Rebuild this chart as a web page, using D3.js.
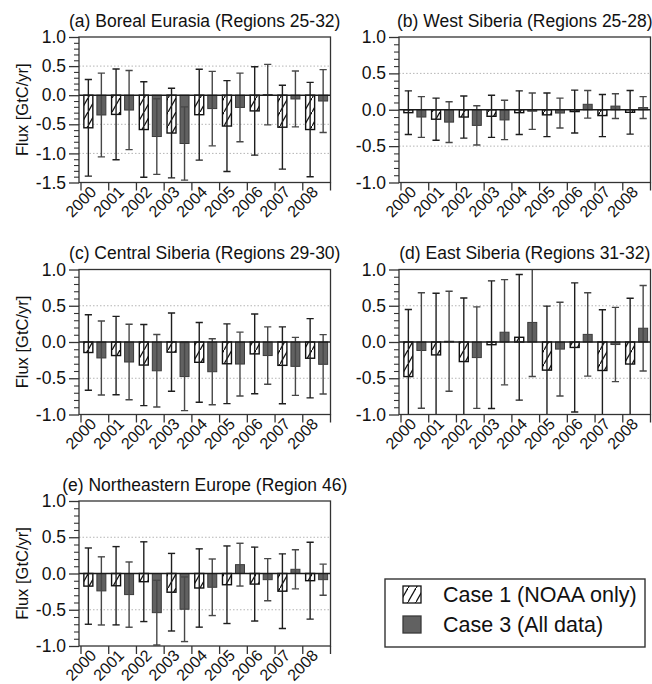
<!DOCTYPE html>
<html><head><meta charset="utf-8">
<script src="https://cdn.jsdelivr.net/npm/d3@7"></script>
<style>
body{margin:0;background:#fff}
text{font-family:"Liberation Sans",Arial,Helvetica,sans-serif;fill:#111}
</style>
</head><body>
<svg id="chart" width="652" height="684"></svg>
<script>
// ---------- DATA ----------
const years = ["2000","2001","2002","2003","2004","2005","2006","2007","2008"];
const seriesNames = ["Case 1 (NOAA only)", "Case 3 (All data)"];
const yLabel = "Flux [GtC/yr]";

// (a) Boreal Eurasia
const aTitle = "(a) Boreal Eurasia (Regions 25-32)";
const aCase1 = [-0.56,-0.33,-0.59,-0.65,-0.335,-0.53,-0.27,-0.55,-0.59];
const aCase1Err = [0.83,0.78,0.82,0.77,0.78,0.78,0.76,0.72,0.81];
const aCase3 = [-0.34,-0.255,-0.71,-0.83,-0.23,-0.21,0.01,-0.065,-0.10];
const aCase3Err = [0.72,0.68,0.65,0.63,0.64,0.59,0.52,0.48,0.54];
const aTicks = [1.0,0.5,0.0,-0.5,-1.0,-1.5];

// (b) West Siberia
const bTitle = "(b) West Siberia (Regions 25-28)";
const bCase1 = [-0.04,-0.13,-0.10,-0.09,-0.04,-0.07,-0.025,-0.08,-0.035];
const bCase1Err = [0.30,0.29,0.29,0.29,0.30,0.30,0.295,0.29,0.30];
const bCase3 = [-0.10,-0.17,-0.215,-0.14,-0.02,-0.045,0.075,0.05,0.03];
const bCase3Err = [0.28,0.28,0.27,0.27,0.25,0.205,0.19,0.17,0.15];

// (c) Central Siberia
const cTitle = "(c) Central Siberia (Regions 29-30)";
const cCase1 = [-0.145,-0.187,-0.318,-0.14,-0.28,-0.30,-0.164,-0.322,-0.224];
const cCase1Err = [0.52,0.54,0.56,0.54,0.55,0.55,0.55,0.53,0.547];
const cCase3 = [-0.22,-0.276,-0.397,-0.477,-0.41,-0.304,-0.187,-0.336,-0.308];
const cCase3Err = [0.51,0.52,0.50,0.47,0.455,0.44,0.395,0.40,0.41];

// (d) East Siberia
const dTitle = "(d) East Siberia (Regions 31-32)";
const dCase1 = [-0.477,-0.178,-0.27,-0.037,0.065,-0.388,-0.075,-0.393,-0.304];
const dCase1Err = [0.926,0.85,0.877,0.88,0.867,0.883,0.89,0.837,0.907];
const dCase3 = [-0.117,0.01,-0.215,0.135,0.27,-0.098,0.105,-0.035,0.19];
const dCase3Err = [0.797,0.69,0.70,0.726,0.745,0.647,0.575,0.512,0.59];

// (e) Northeastern Europe
const eTitle = "(e) Northeastern Europe (Region 46)";
const eCase1 = [-0.174,-0.169,-0.113,-0.258,-0.20,-0.155,-0.146,-0.244,-0.099];
const eCase1Err = [0.526,0.54,0.55,0.535,0.54,0.535,0.51,0.515,0.53];
const eCase3 = [-0.24,-0.291,-0.54,-0.493,-0.19,0.122,-0.085,0.058,-0.085];
const eCase3Err = [0.47,0.45,0.446,0.446,0.39,0.295,0.29,0.27,0.214];

const stdTicks = [1.0,0.5,0.0,-0.5,-1.0];

// ---------- LAYOUT ----------
const panels = [
  {title:aTitle, c1:aCase1, e1:aCase1Err, c3:aCase3, e3:aCase3Err, ticks:aTicks, left:79, bandStart:81, right:330.5, top:37, bottom:182.5, ylab:true},
  {title:bTitle, c1:bCase1, e1:bCase1Err, c3:bCase3, e3:bCase3Err, ticks:stdTicks, left:399, bandStart:401, right:650.5, top:37, bottom:182.5, ylab:false},
  {title:cTitle, c1:cCase1, e1:cCase1Err, c3:cCase3, e3:cCase3Err, ticks:stdTicks, left:79, bandStart:81, right:330.5, top:269.5, bottom:414.5, ylab:true},
  {title:dTitle, c1:dCase1, e1:dCase1Err, c3:dCase3, e3:dCase3Err, ticks:stdTicks, left:399, bandStart:401, right:650.5, top:269.5, bottom:414.5, ylab:false},
  {title:eTitle, c1:eCase1, e1:eCase1Err, c3:eCase3, e3:eCase3Err, ticks:stdTicks, left:79, bandStart:81, right:330.5, top:501, bottom:646, ylab:true}
];

const svg = d3.select("#chart");
const defs = svg.append("defs");
const pat = defs.append("pattern").attr("id","hatch")
  .attr("patternUnits","userSpaceOnUse").attr("width",8).attr("height",14);
pat.append("rect").attr("width",8).attr("height",14).attr("fill","#fff");
pat.append("path").attr("d","M-2,17.5 L10,-3.5").attr("stroke","#111").attr("stroke-width",1.3);

const darkFill = "#616161", darkStroke = "#3a3a3a";

panels.forEach((p, pi) => {
  const g = svg.append("g");
  const ext = d3.extent(p.ticks);
  const y = d3.scaleLinear().domain(ext).range([p.bottom, p.top]);
  const x = d3.scaleBand().domain(years).range([p.bandStart, p.right]);
  const xs = d3.scaleBand().domain(["c1","c3"]).range([0, x.bandwidth()])
    .paddingInner(0.31).paddingOuter(0.22);

  const clipId = "clip" + pi;
  defs.append("clipPath").attr("id", clipId).append("rect")
    .attr("x", p.left).attr("y", p.top).attr("width", p.right - p.left).attr("height", p.bottom - p.top);

  // dotted grid
  const grid = p.ticks.filter(t => t !== 0 && t !== ext[0] && t !== ext[1]);
  g.selectAll("line.grid").data(grid).join("line").attr("class","grid")
    .attr("x1", p.left).attr("x2", p.right)
    .attr("y1", d => y(d)).attr("y2", d => y(d))
    .attr("stroke","#b5b5b5").attr("stroke-width",1).attr("stroke-dasharray","1.5,2");

  const rows = years.map((yr, i) => ({yr, v1:p.c1[i], e1:p.e1[i], v3:p.c3[i], e3:p.e3[i]}));
  const plot = g.append("g").attr("clip-path", `url(#${clipId})`);

  // bars
  plot.selectAll("rect.c1").data(rows).join("rect").attr("class","c1")
    .attr("x", d => x(d.yr) + xs("c1")).attr("width", xs.bandwidth())
    .attr("y", d => y(Math.max(0, d.v1))).attr("height", d => Math.abs(y(d.v1) - y(0)))
    .attr("fill","url(#hatch)").attr("stroke","#111").attr("stroke-width",1.4);
  plot.selectAll("rect.c3").data(rows).join("rect").attr("class","c3")
    .attr("x", d => x(d.yr) + xs("c3")).attr("width", xs.bandwidth())
    .attr("y", d => y(Math.max(0, d.v3))).attr("height", d => Math.abs(y(d.v3) - y(0)))
    .attr("fill", darkFill).attr("stroke", darkStroke).attr("stroke-width",1);

  // error bars
  const capW = 3.6;
  [["c1","v1","e1","#1e1e1e"],["c3","v3","e3","#474747"]].forEach(([k, vk, ek, col]) => {
    const cx = d => x(d.yr) + xs(k) + xs.bandwidth()/2;
    const eg = plot.selectAll("g.eb" + k).data(rows).join("g").attr("class","eb" + k);
    eg.append("line").attr("x1", cx).attr("x2", cx)
      .attr("y1", d => y(d[vk] + d[ek])).attr("y2", d => y(d[vk] - d[ek]))
      .attr("stroke", col).attr("stroke-width",1.4);
    eg.append("line").attr("x1", d => cx(d) - capW).attr("x2", d => cx(d) + capW)
      .attr("y1", d => y(d[vk] + d[ek])).attr("y2", d => y(d[vk] + d[ek]))
      .attr("stroke", col).attr("stroke-width",1.4);
    eg.append("line").attr("x1", d => cx(d) - capW).attr("x2", d => cx(d) + capW)
      .attr("y1", d => y(d[vk] - d[ek])).attr("y2", d => y(d[vk] - d[ek]))
      .attr("stroke", col).attr("stroke-width",1.4);
  });

  // zero line
  g.append("line").attr("x1", p.left).attr("x2", p.right).attr("y1", y(0)).attr("y2", y(0))
    .attr("stroke","#1a1a1a").attr("stroke-width",1.6);

  // frame
  g.append("rect").attr("x", p.left).attr("y", p.top)
    .attr("width", p.right - p.left).attr("height", p.bottom - p.top)
    .attr("fill","none").attr("stroke","#333").attr("stroke-width",1.3);

  // y axis major
  const ya = g.append("g").attr("transform", `translate(${p.left},0)`)
    .call(d3.axisLeft(y).tickValues(p.ticks).tickSize(10).tickPadding(3).tickFormat(d => d.toFixed(1)));
  ya.select(".domain").remove();
  ya.selectAll(".tick line").attr("stroke","#333").attr("stroke-width",1.3);
  ya.selectAll(".tick text").attr("font-size","17.5px").attr("font-family",null).attr("fill","#111");
  // y axis minor
  const minors = d3.range(Math.round(ext[0]*10), Math.round(ext[1]*10) + 1).map(v => v/10).filter(v => Math.abs(v*2 - Math.round(v*2)) > 1e-6);
  const ym = g.append("g").attr("transform", `translate(${p.left},0)`)
    .call(d3.axisLeft(y).tickValues(minors).tickSize(5).tickFormat(""));
  ym.select(".domain").remove();
  ym.selectAll(".tick line").attr("stroke","#333").attr("stroke-width",1.1);

  // x axis ticks at band boundaries
  const bounds = years.map(d => x(d)).concat([x.range()[1]]);
  g.selectAll("line.xt").data(bounds).join("line").attr("class","xt")
    .attr("x1", d => d).attr("x2", d => d).attr("y1", p.bottom).attr("y2", p.bottom + 8)
    .attr("stroke","#333").attr("stroke-width",1.3);
  g.selectAll("text.xl").data(years).join("text").attr("class","xl")
    .attr("transform", d => `translate(${x(d) + x.bandwidth()/2 + 2.5},${p.bottom + 10.5}) rotate(-45)`)
    .attr("text-anchor","end").attr("font-size","16px").text(d => d);

  // title
  g.append("text").attr("x", (p.left + p.right)/2).attr("y", p.top - 10.5)
    .attr("text-anchor","middle").attr("font-size","17.5px").text(p.title);

  // y label
  if (p.ylab) {
    g.append("text").attr("transform", `translate(28,${(p.top + p.bottom)/2}) rotate(-90)`)
      .attr("text-anchor","middle").attr("font-size","16.5px").text(yLabel);
  }
});

// ---------- LEGEND ----------
const lg = svg.append("g");
lg.append("rect").attr("x",385).attr("y",579).attr("width",260).attr("height",68)
  .attr("fill","#fff").attr("stroke","#333").attr("stroke-width",1.4);
const legendRows = seriesNames.map((name, i) => ({name, i}));
lg.selectAll("rect.sw").data(legendRows).join("rect").attr("class","sw")
  .attr("x",403).attr("y", d => 586 + d.i*30).attr("width",18).attr("height",17)
  .attr("fill", d => d.i === 0 ? "url(#hatch)" : darkFill)
  .attr("stroke", d => d.i === 0 ? "#111" : darkStroke).attr("stroke-width",1.3);
lg.selectAll("text.lt").data(legendRows).join("text").attr("class","lt")
  .attr("x",443).attr("y", d => 602 + d.i*29.5)
  .attr("font-size","21.5px").text(d => d.name);
</script>
</body></html>
